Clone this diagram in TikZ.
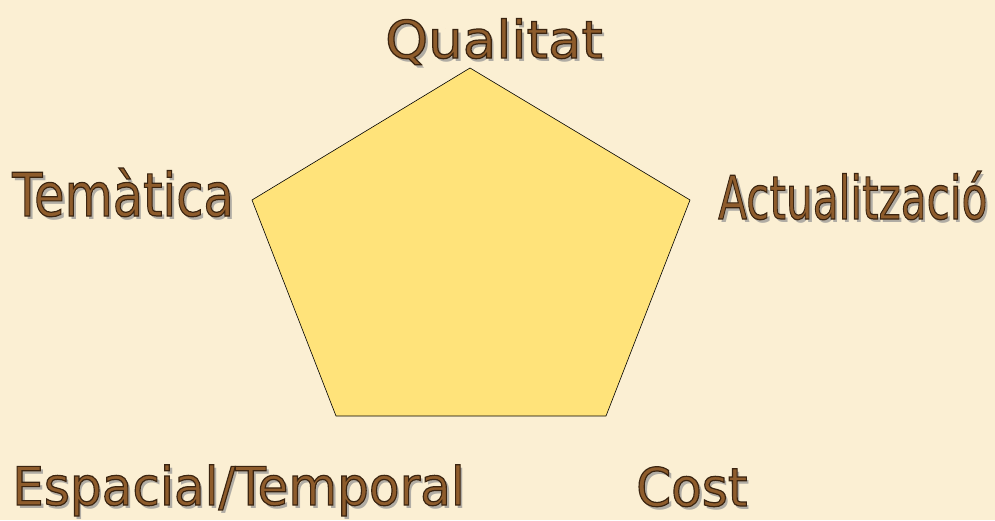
\documentclass[tikz,border=0pt]{standalone}
\usepackage{fontspec}
\setmainfont{DejaVu Sans}
\definecolor{bg}{HTML}{FBEFD3}
\definecolor{penta}{HTML}{FFE37A}
\definecolor{txtfill}{HTML}{8E5C2C}
\definecolor{shade}{HTML}{B0ACA4}
\newcommand{\outlined}[1]{\special{pdf:literal direct 2 Tr 1.2 w 0.227 0.141 0.063 RG}#1\special{pdf:literal direct 0 Tr 0.4 w}}
\newcommand{\lbl}[6]{%
  \node[shadowtext] at (#2+3,#3+3) {\scalebox{#5}[1]{\fontsize{#4}{#4}\selectfont #6}};
  \node[labeltext] (#1) at (#2,#3) {\scalebox{#5}[1]{\fontsize{#4}{#4}\selectfont\outlined{#6}}};
}
\begin{document}
\begin{tikzpicture}[x=1pt,y=-1pt,
  shadowtext/.style={anchor=base west, inner sep=0pt, text=shade},
  labeltext/.style={anchor=base west, inner sep=0pt, text=txtfill},
  pentagon/.style={draw=black, fill=penta, line width=0.6pt, line join=miter}]
\fill[bg] (0,0) rectangle (995,520);
\useasboundingbox (0,0) rectangle (995,520);
\coordinate (p1) at (470,68);
\coordinate (p2) at (690,200);
\coordinate (p3) at (606,416);
\coordinate (p4) at (336,416);
\coordinate (p5) at (252,200);
\filldraw[pentagon] (p1) -- (p2) -- (p3) -- (p4) -- (p5) -- cycle;
\lbl{qual}{385}{58}{52}{1.05}{Qualitat}
\lbl{tema}{12}{216}{60}{0.825}{Temàtica}
\lbl{actu}{718}{219}{60}{0.703}{Actualització}
\lbl{espa}{12}{505}{53}{0.945}{Espacial/Temporal}
\lbl{cost}{636}{506}{53}{0.945}{Cost}
\end{tikzpicture}
\end{document}
